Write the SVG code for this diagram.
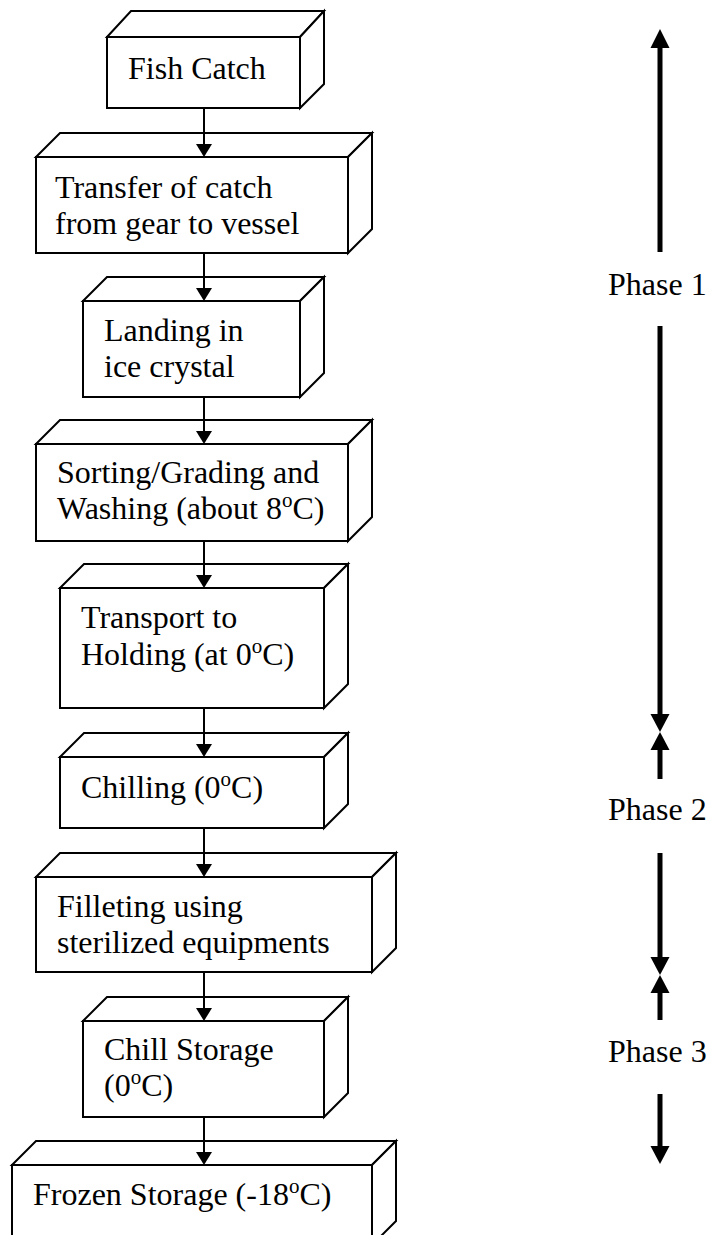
<svg xmlns="http://www.w3.org/2000/svg" width="711" height="1235" viewBox="0 0 711 1235">
<style>
.face{fill:#fff;stroke:#000;stroke-width:2;stroke-linejoin:miter}
text{font-family:'Liberation Serif','Times New Roman','DejaVu Serif',serif;font-size:32px;fill:#000}
.sup{font-size:21px}
.cl{stroke:#000;stroke-width:2;fill:none}
.ch{fill:#000;stroke:none}
.pl{stroke:#000;stroke-width:5;fill:none}
</style>
<rect x="0" y="0" width="711" height="1235" fill="#fff"/>
<g id="box1">
<rect class="face" x="107" y="37" width="193" height="71"/>
<path class="face" d="M107,37 L131,11 L324,11 L300,37 Z"/>
<path class="face" d="M300,37 L324,11 L324,84 L300,108 Z"/>
<text font-family="Liberation Serif" x="128" y="79">Fish Catch</text>
</g>
<g id="box2">
<rect class="face" x="36" y="157" width="312" height="96"/>
<path class="face" d="M36,157 L60,133 L372,133 L348,157 Z"/>
<path class="face" d="M348,157 L372,133 L372,229 L348,253 Z"/>
<text font-family="Liberation Serif" x="55" y="198">Transfer of catch</text>
<text font-family="Liberation Serif" x="55" y="234">from gear to vessel</text>
</g>
<g id="box3">
<rect class="face" x="83" y="301" width="217" height="96"/>
<path class="face" d="M83,301 L107,277 L324,277 L300,301 Z"/>
<path class="face" d="M300,301 L324,277 L324,373 L300,397 Z"/>
<text font-family="Liberation Serif" x="104" y="341">Landing in</text>
<text font-family="Liberation Serif" x="104" y="377">ice crystal</text>
</g>
<g id="box4">
<rect class="face" x="36" y="444" width="312" height="97"/>
<path class="face" d="M36,444 L60,420 L372,420 L348,444 Z"/>
<path class="face" d="M348,444 L372,420 L372,517 L348,541 Z"/>
<text font-family="Liberation Serif" x="57" y="483">Sorting/Grading and</text>
<text font-family="Liberation Serif" x="57" y="519">Washing (about 8<tspan class="sup" dy="-12">o</tspan><tspan dy="12">C)</tspan></text>
</g>
<g id="box5">
<rect class="face" x="60" y="588" width="264" height="120"/>
<path class="face" d="M60,588 L84,564 L348,564 L324,588 Z"/>
<path class="face" d="M324,588 L348,564 L348,684 L324,708 Z"/>
<text font-family="Liberation Serif" x="81" y="628">Transport to</text>
<text font-family="Liberation Serif" x="81" y="665">Holding (at 0<tspan class="sup" dy="-12">o</tspan><tspan dy="12">C)</tspan></text>
</g>
<g id="box6">
<rect class="face" x="60" y="757" width="264" height="71"/>
<path class="face" d="M60,757 L84,733 L348,733 L324,757 Z"/>
<path class="face" d="M324,757 L348,733 L348,804 L324,828 Z"/>
<text font-family="Liberation Serif" x="81" y="798">Chilling (0<tspan class="sup" dy="-12">o</tspan><tspan dy="12">C)</tspan></text>
</g>
<g id="box7">
<rect class="face" x="36" y="877" width="336" height="95"/>
<path class="face" d="M36,877 L60,853 L396,853 L372,877 Z"/>
<path class="face" d="M372,877 L396,853 L396,948 L372,972 Z"/>
<text font-family="Liberation Serif" x="57" y="917">Filleting using</text>
<text font-family="Liberation Serif" x="57" y="953">sterilized equipments</text>
</g>
<g id="box8">
<rect class="face" x="83" y="1021" width="241" height="96"/>
<path class="face" d="M83,1021 L107,997 L348,997 L324,1021 Z"/>
<path class="face" d="M324,1021 L348,997 L348,1093 L324,1117 Z"/>
<text font-family="Liberation Serif" x="104" y="1060">Chill Storage</text>
<text font-family="Liberation Serif" x="104" y="1096">(0<tspan class="sup" dy="-12">o</tspan><tspan dy="12">C)</tspan></text>
</g>
<g id="box9">
<rect class="face" x="12" y="1165" width="360" height="80"/>
<path class="face" d="M12,1165 L36,1141 L396,1141 L372,1165 Z"/>
<path class="face" d="M372,1165 L396,1141 L396,1221 L372,1245 Z"/>
<text font-family="Liberation Serif" x="33" y="1205">Frozen Storage (-18<tspan class="sup" dy="-12">o</tspan><tspan dy="12">C)</tspan></text>
</g>
<g id="connectors">
<line class="cl" x1="204" y1="108" x2="204" y2="145"/><polygon class="ch" points="196,144 212,144 204,157"/>
<line class="cl" x1="204" y1="253" x2="204" y2="289"/><polygon class="ch" points="196,288 212,288 204,301"/>
<line class="cl" x1="204" y1="397" x2="204" y2="432"/><polygon class="ch" points="196,431 212,431 204,444"/>
<line class="cl" x1="204" y1="541" x2="204" y2="576"/><polygon class="ch" points="196,575 212,575 204,588"/>
<line class="cl" x1="204" y1="708" x2="204" y2="745"/><polygon class="ch" points="196,744 212,744 204,757"/>
<line class="cl" x1="204" y1="828" x2="204" y2="865"/><polygon class="ch" points="196,864 212,864 204,877"/>
<line class="cl" x1="204" y1="972" x2="204" y2="1009"/><polygon class="ch" points="196,1008 212,1008 204,1021"/>
<line class="cl" x1="204" y1="1117" x2="204" y2="1153"/><polygon class="ch" points="196,1152 212,1152 204,1165"/>
</g>
<g id="phases">
<line class="pl" x1="660" y1="47" x2="660" y2="252"/><polygon class="ch" points="650.5,48 669.5,48 660,29"/>
<line class="pl" x1="660" y1="326" x2="660" y2="715"/><polygon class="ch" points="650.5,714 669.5,714 660,732"/>
<line class="pl" x1="660" y1="749" x2="660" y2="779"/><polygon class="ch" points="650.5,750 669.5,750 660,732"/>
<line class="pl" x1="660" y1="853" x2="660" y2="958"/><polygon class="ch" points="650.5,957 669.5,957 660,975"/>
<line class="pl" x1="660" y1="992" x2="660" y2="1020"/><polygon class="ch" points="650.5,993 669.5,993 660,975"/>
<line class="pl" x1="660" y1="1094" x2="660" y2="1147"/><polygon class="ch" points="650.5,1146 669.5,1146 660,1164"/>
<text font-family="Liberation Serif" x="608" y="295">Phase 1</text>
<text font-family="Liberation Serif" x="608" y="820">Phase 2</text>
<text font-family="Liberation Serif" x="608" y="1062">Phase 3</text>
</g>
</svg>
